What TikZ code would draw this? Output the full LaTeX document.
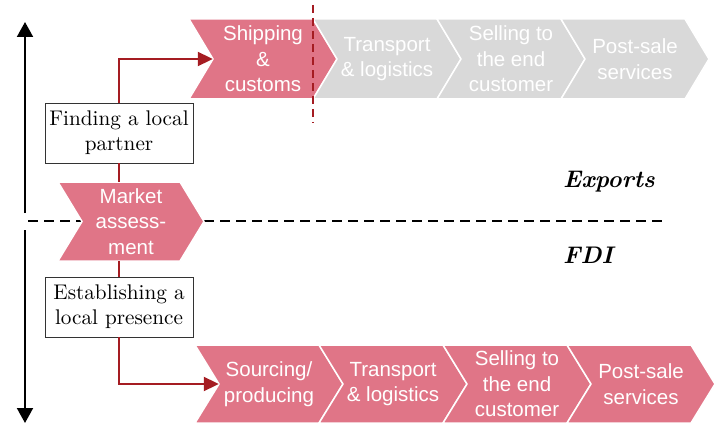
\documentclass[tikz,border=0pt]{standalone}
\usepackage{fontspec}
\newfontfamily\chevfont{Liberation Sans}
\newfontfamily\boxfont{lmroman10-regular}[Extension=.otf, BoldItalicFont=lmroman10-bolditalic, ItalicFont=lmroman10-italic, BoldFont=lmroman10-bold]
\usetikzlibrary{arrows.meta}
\definecolor{pinkc}{HTML}{E07587}
\definecolor{grayc}{HTML}{D9D9D9}
\definecolor{darkred}{HTML}{A51C22}
\tikzset{
 chevtext/.style={text=white, font=\chevfont\fontsize{20.5}{25.5}\selectfont, align=center, inner sep=0pt},
 pinkchev/.style={fill=pinkc, draw=white, line width=1.5pt},
 graychev/.style={fill=grayc, draw=white, line width=1.5pt},
 stagebox/.style={draw=black!80, fill=white, line width=0.8pt, font=\boxfont\fontsize{21.2}{25}\selectfont, align=center, minimum width=148pt, minimum height=60pt, inner sep=0pt},
 redlink/.style={draw=darkred, line width=2pt},
 redarrow/.style={redlink, -{Triangle[length=15pt,width=14pt]}},
 axisarrow/.style={line width=2pt, -{Triangle[length=15pt,width=16pt]}},
 modelabel/.style={font=\boxfont\bfseries\itshape\fontsize{24}{28}\selectfont, anchor=west, inner sep=0pt}
}
\newcommand\chev[7]{%
 \path[#6] (#2,#3) -- ({#2+#4},#3) -- ({#2+#4+24},{#3+#5/2}) -- ({#2+#4},{#3+#5}) -- (#2,{#3+#5}) -- ({#2+24},{#3+#5/2}) -- cycle;
 \node[chevtext, minimum width={#4-24}, minimum height=#5] (#1) at ({#2+12+#4/2},{#3+#5/2}) {#7};
}
\begin{document}
\begin{tikzpicture}[x=1pt,y=-1pt]
\useasboundingbox (0,0) rectangle (720,425);
% axis
\coordinate (upstart) at (25,213);
\coordinate (uptip) at (25,22);
\coordinate (downstart) at (25,230);
\coordinate (downtip) at (25,423);
\draw[axisarrow] (upstart) -- (uptip);
\draw[axisarrow] (downstart) -- (downtip);
% divider
\coordinate (divl) at (28,221);
\coordinate (divr) at (668,221);
\draw[line width=1.5pt, dash pattern=on 10pt off 6pt] (divl) -- (divr);
% market assessment
\chev{mkt}{58}{182}{122}{79}{pinkchev}{Market\\assess-\\ment}
% exports row
\chev{ship}{189}{19}{124}{80}{pinkchev}{Shipping\\\&\\customs}
\chev{trx}{313}{19}{124}{80}{graychev}{Transport\\\& logistics}
\chev{selx}{437}{19}{124}{80}{graychev}{Selling to\\the end\\customer}
\chev{postx}{561}{19}{124}{80}{graychev}{Post-sale\\services}
% FDI row
\chev{src}{195}{345}{124}{78}{pinkchev}{Sourcing/\\producing}
\chev{trf}{319}{345}{124}{78}{pinkchev}{Transport\\\& logistics}
\chev{self}{443}{345}{124}{78}{pinkchev}{Selling to\\the end\\customer}
\chev{postf}{567}{345}{124}{78}{pinkchev}{Post-sale\\services}
% cut line
\coordinate (cuttop) at (313,5);
\coordinate (cutbot) at (313,123);
\draw[darkred, line width=2pt, dash pattern=on 8pt off 5pt] (cuttop) -- (cutbot);
% boxes
\node[stagebox] (fin) at (119,133) {Finding a local\\partner};
\node[stagebox] (est) at (119,307) {Establishing a\\local presence};
% connectors
\draw[redlink] (fin.south) -- (fin.south |- mkt.north);
\draw[redarrow] (fin.north) |- (ship.west);
\draw[redlink] (est.north) -- (est.north |- mkt.south);
\draw[redarrow] (est.south) |- (src.west);
% labels
\node[modelabel] (exp) at (563,182) {Exports};
\node[modelabel] (fdi) at (563,255) {FDI};
\end{tikzpicture}
\end{document}
